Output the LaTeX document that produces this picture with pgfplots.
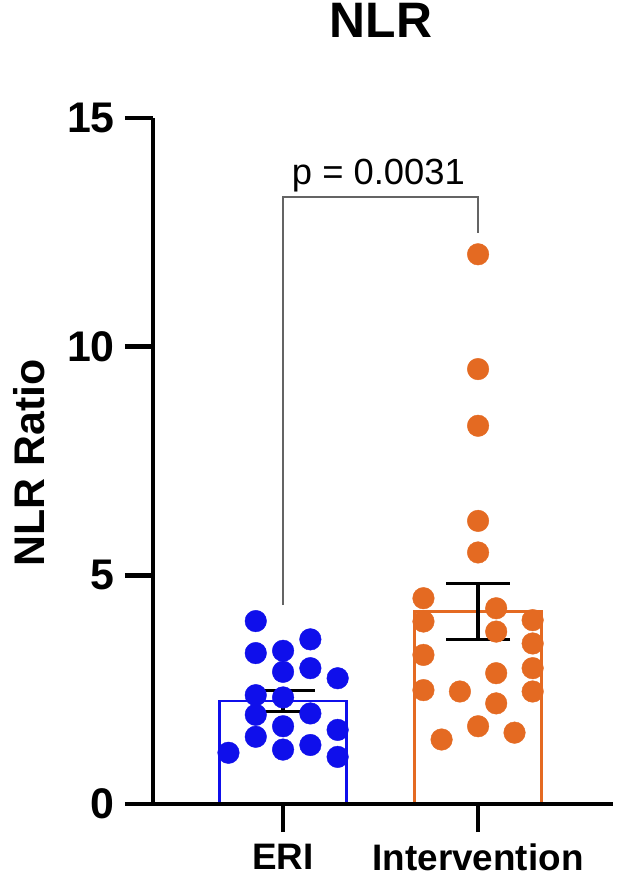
\documentclass[border=0pt]{standalone}
\usepackage{fontspec}
\setmainfont{Liberation Sans}
\usepackage{pgfplots}
\pgfplotsset{compat=1.18}
\definecolor{eriblue}{RGB}{15,15,235}
\definecolor{intorange}{RGB}{228,106,34}
\definecolor{brgray}{RGB}{100,100,100}
\begin{document}
\begin{tikzpicture}
\begin{axis}[
  scale only axis, width=460bp, height=686bp,
  xmin=-0.667, xmax=1.692, ymin=0, ymax=15,
  axis x line=bottom, axis y line=left,
  axis line style={line width=4.5bp, -},
  axis on top=true,
  xtick={0,1}, xticklabels={ERI, Intervention},
  ytick={0,5,10,15},
  tick align=outside, major tick length=28bp,
  tick style={line width=4.5bp, black},
  /pgf/number format/assume math mode=true,
  yticklabel style={font=\bfseries\fontsize{43}{43}\selectfont, inner sep=0pt, xshift=-10bp},
  xticklabel style={font=\bfseries\fontsize{37}{37}\selectfont, inner sep=0pt, anchor=north, yshift=-12bp},
  ylabel={NLR Ratio},
  ylabel style={font=\bfseries\fontsize{43}{43}\selectfont, at={(axis description cs:-0.27,0.497)}, anchor=center},
  title={NLR},
  title style={font=\bfseries\fontsize{50}{50}\selectfont, inner sep=0pt, at={(axis description cs:0.4957,1.1085)}, anchor=base},
  clip=false,
]
% bars (means)
\addplot[ybar, bar width=127bp, bar shift=0pt, draw=eriblue, fill=white, line width=2.5bp] coordinates {(0,2.25)};
\addplot[ybar, bar width=127bp, bar shift=0pt, draw=intorange, fill=white, line width=2.5bp] coordinates {(1,4.21)};
% individual points ERI
\addplot[only marks, mark=*, mark size=10.8bp, mark options={draw=eriblue, fill=eriblue}] table {
x y
-0.14 4.00
-0.14 3.30
-0.14 2.38
-0.14 1.95
-0.14 1.47
0.14 3.60
0.14 2.97
0.14 1.98
0.14 1.29
0 3.35
0 2.89
0 2.33
0 1.70
0 1.19
0.28 2.75
0.28 1.62
0.28 1.03
-0.28 1.12
};
% individual points Intervention
\addplot[only marks, mark=*, mark size=10.8bp, mark options={draw=intorange, fill=intorange}] table {
x y
1 12.02
1 9.51
1 8.27
1 6.19
1 5.50
1 1.70
0.72 4.50
0.72 3.99
0.72 3.26
0.72 2.49
1.093 4.28
1.093 3.77
1.093 2.86
1.093 2.20
1.28 4.02
1.28 3.51
1.28 2.97
1.28 2.46
0.907 2.46
1.187 1.56
0.813 1.41
};
% error bars (SEM)
\addplot[draw=none, mark=none, forget plot,
  error bars/.cd, y dir=both, y explicit,
  error bar style={draw=black, line width=3.2bp},
  error mark options={draw=black, rotate=90, mark size=32bp, line width=3.2bp}]
  coordinates {(0,2.25) +- (0,0.225) (1,4.21) +- (0,0.61)};
% significance bracket
\addplot[brgray, line width=1.5bp, mark=none] coordinates {(0,4.35) (0,13.27) (1,13.27) (1,12.49)};
\node[font=\fontsize{36.5}{36.5}\selectfont, anchor=base] at (axis cs:0.489,13.54) {p = 0.0031};
\end{axis}
\pgfresetboundingbox
\path[use as bounding box] (-153bp,-75bp) rectangle (465bp,804bp);
\end{tikzpicture}
\end{document}
